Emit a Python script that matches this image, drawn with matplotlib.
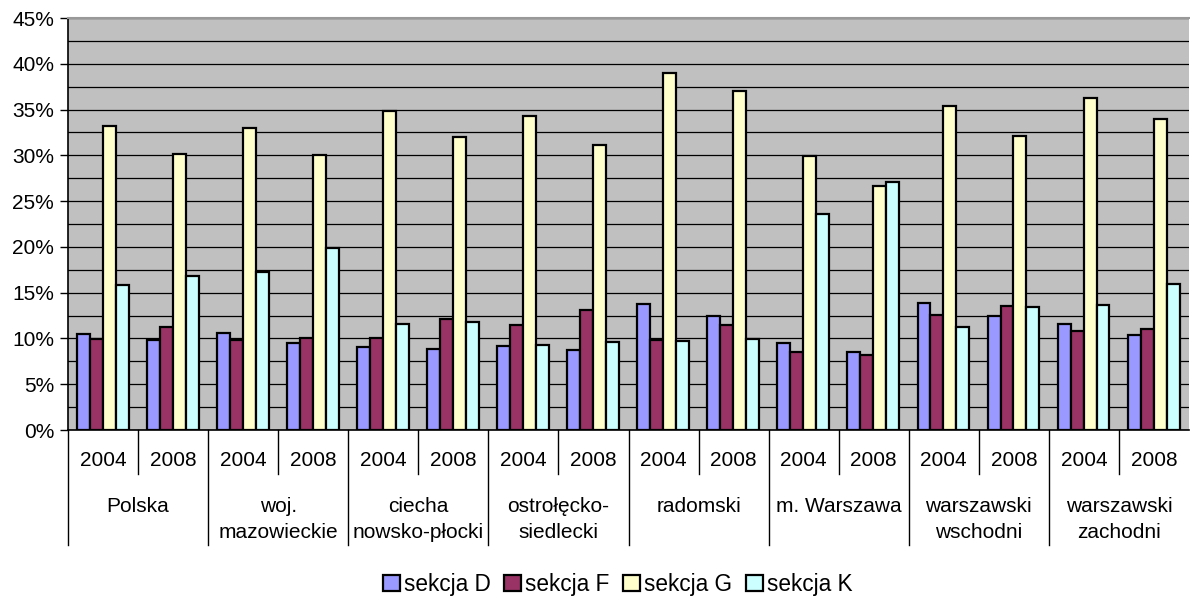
import numpy as np
import matplotlib
matplotlib.use('Agg')
import matplotlib.pyplot as plt
from matplotlib.ticker import FuncFormatter, MultipleLocator

plt.rcParams['font.family'] = ['Liberation Sans', 'DejaVu Sans']

# Data (percent)
regions = ['Polska', 'woj.\nmazowieckie', 'ciecha\nnowsko-płocki', 'ostrołęcko-\nsiedlecki',
           'radomski', 'm. Warszawa', 'warszawski\nwschodni', 'warszawski\nzachodni']
years = ['2004', '2008']
series_names = ['sekcja D', 'sekcja F', 'sekcja G', 'sekcja K']

sekcja_d = [10.5, 9.8, 10.6, 9.5, 9.1, 8.8, 9.2, 8.7, 13.8, 12.5, 9.5, 8.5, 13.9, 12.4, 11.6, 10.4]
sekcja_f = [9.9, 11.3, 9.8, 10.1, 10.0, 12.1, 11.5, 13.1, 9.8, 11.5, 8.5, 8.2, 12.6, 13.5, 10.8, 11.0]
sekcja_g = [33.2, 30.2, 33.0, 30.0, 34.8, 32.0, 34.3, 31.1, 39.0, 37.0, 29.9, 26.7, 35.4, 32.1, 36.3, 34.0]
sekcja_k = [15.8, 16.8, 17.3, 19.9, 11.6, 11.8, 9.3, 9.6, 9.7, 9.9, 23.6, 27.1, 11.2, 13.4, 13.6, 16.0]

colors = ['#9999FF', '#993366', '#FFFFCC', '#CCFFFF']

fig = plt.figure(figsize=(11.9, 6), dpi=100)
ax = fig.add_axes([68 / 1190, 170 / 600, 1121 / 1190, 412 / 600])
ax.set_facecolor('#C0C0C0')

n = len(sekcja_d)
slots = np.arange(n)
w = 0.185
for k, (vals, c) in enumerate(zip([sekcja_d, sekcja_f, sekcja_g, sekcja_k], colors)):
    ax.bar(slots + 0.125 + w * (k + 0.5), vals, width=w, color=c, edgecolor='black',
           linewidth=1.6, label=series_names[k], zorder=3)

ax.set_xlim(0, n)
ax.set_ylim(0, 45)
ax.yaxis.set_major_locator(MultipleLocator(5))
ax.yaxis.set_minor_locator(MultipleLocator(2.5))
ax.yaxis.set_major_formatter(FuncFormatter(lambda v, p: f'{v:.0f}%'))
ax.grid(axis='y', which='both', color='black', linewidth=0.9, zorder=1)
ax.tick_params(axis='y', which='major', length=6, width=1, labelsize=15, pad=4)
ax.tick_params(axis='y', which='minor', length=0)
ax.set_xticks([])

ax.spines['right'].set_visible(False)
ax.spines['top'].set_color('#999999')
ax.spines['top'].set_linewidth(1.5)
ax.spines['left'].set_linewidth(1.2)
ax.spines['bottom'].set_linewidth(1.2)

# two-level category axis
tr = ax.get_xaxis_transform()
for i in range(n):
    ax.text(i + 0.5, -0.073, years[i % 2], transform=tr, ha='center', va='center', fontsize=15)
    if i % 2 == 1:
        ax.plot([i, i], [0, -0.107], transform=tr, color='black', linewidth=1, clip_on=False)
for g, name in enumerate(regions):
    ax.text(2 * g + 1, -0.162, name, transform=tr, ha='center', va='top', fontsize=15,
            linespacing=1.5)
    ax.plot([2 * g, 2 * g], [0, -0.279], transform=tr, color='black', linewidth=1, clip_on=False)

fig.legend(loc='lower center', bbox_to_anchor=(0.519, -0.027), ncol=4, frameon=False, fontsize=16.3,
           handlelength=0.75, handleheight=0.75, handletextpad=0.18, columnspacing=0.6)

fig.savefig('out.png', dpi=100)
